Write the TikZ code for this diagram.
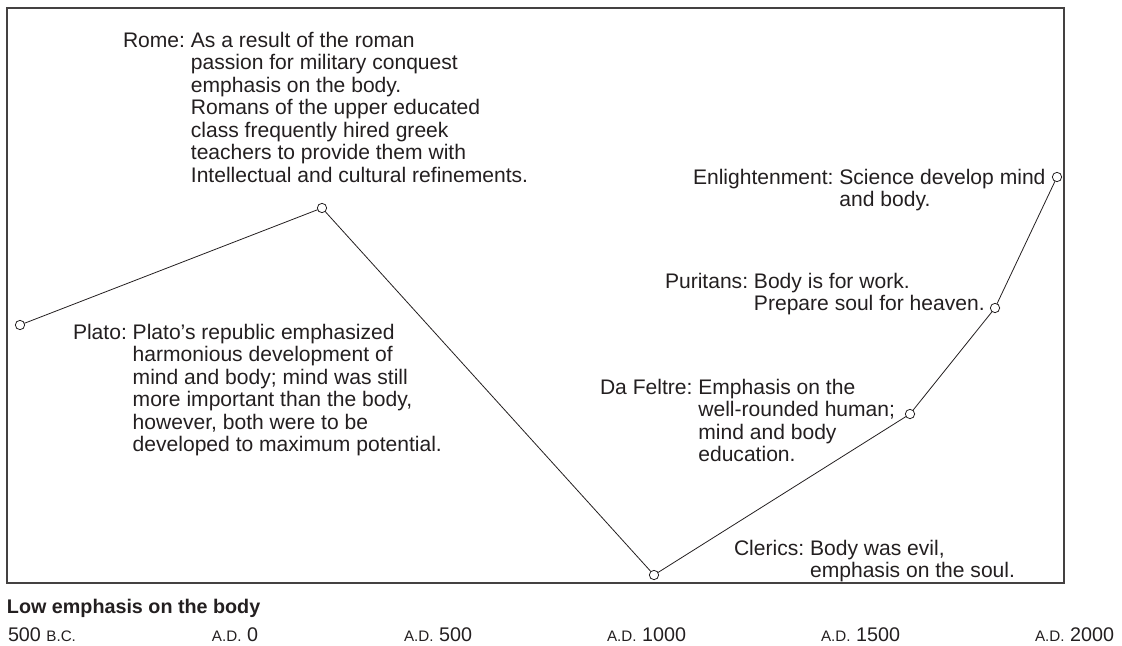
\documentclass[tikz,border=0pt]{standalone}
\usepackage{fontspec}
\setmainfont{Liberation Sans}
\definecolor{ink}{HTML}{231F20}
% small capitals for the era marks
\newcommand\era[1]{{\fontsize{11.4}{12}\selectfont #1}}
% a label with a hanging indent after its heading
\newcommand\note[2]{\begin{tabular}[t]{@{}l@{\ }l@{}}#1 & #2\end{tabular}}
\begin{document}
\begin{tikzpicture}[x=0.75pt,y=-0.75pt,
  every node/.style={inner sep=0pt,outer sep=0pt,text=ink},
  lbl/.style={anchor=base west,font=\fontsize{15.8}{16.9}\selectfont},
  dot/.style={circle,draw=ink,fill=white,line width=0.6pt,minimum size=7pt},
  curve/.style={draw=ink,line width=0.6pt},
  axisfont/.style={font=\fontsize{14.8}{16.9}\selectfont},
  boldfont/.style={font=\fontsize{14.8}{16.9}\selectfont\bfseries},
  era/.style={anchor=base east,axisfont}]
\useasboundingbox (0,0) rectangle (1122,646);
\draw[draw=ink!85,line width=1pt] (7,8) rectangle (1064,583);

% labels
\node[lbl] (trome) at (123,47) {\note{Rome:}{As a result of the roman\\ & passion for military conquest\\ & emphasis on the body.\\ & Romans of the upper educated\\ & class frequently hired greek\\ & teachers to provide them with\\ & Intellectual and cultural refinements.}};
\node[lbl] (tplato) at (73,339) {\note{Plato:}{Plato’s republic emphasized\\ & harmonious development of\\ & mind and body; mind was still\\ & more important than the body,\\ & however, both were to be\\ & developed to maximum potential.}};
\node[lbl] (tenl) at (693,184) {\note{Enlightenment:}{Science develop mind\\ & and body.}};
\node[lbl] (tpur) at (665,288) {\note{Puritans:}{Body is for work.\\ & Prepare soul for heaven.}};
\node[lbl] (tfel) at (600,394) {\note{Da Feltre:}{Emphasis on the\\ & well-rounded human;\\ & mind and body\\ & education.}};
\node[lbl] (tcler) at (734,555) {\note{Clerics:}{Body was evil,\\ & emphasis on the soul.}};

% curve of emphasis on the body
\node[dot] (plato) at (20,325) {};
\node[dot] (rome) at (322,208) {};
\node[dot] (clerics) at (654,575) {};
\node[dot] (feltre) at (910,414) {};
\node[dot] (puritans) at (995,308) {};
\node[dot] (enl) at (1057,177) {};
\draw[curve] (plato) -- (rome) -- (clerics) -- (feltre) -- (puritans) -- (enl);

% time axis
\node[anchor=base west,boldfont] (low) at (7,613) {Low emphasis on the body};
\node[anchor=base west,axisfont] (t0) at (8,641) {500 \era{B.C.}};
\node[era] (t1) at (258,641) {\era{A.D.} 0};
\node[era] (t2) at (472,641) {\era{A.D.} 500};
\node[era] (t3) at (686,641) {\era{A.D.} 1000};
\node[era] (t4) at (900,641) {\era{A.D.} 1500};
\node[era] (t5) at (1114,641) {\era{A.D.} 2000};
\end{tikzpicture}
\end{document}
